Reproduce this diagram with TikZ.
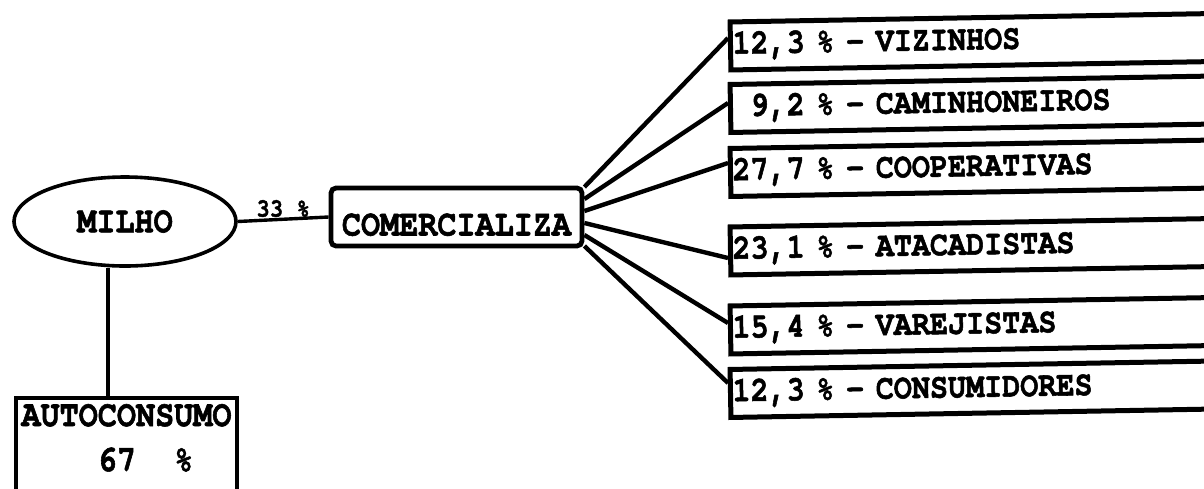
\documentclass[tikz,border=0pt]{standalone}
\usepackage{fontspec}
\newfontfamily\typer{texgyrecursor-bold.otf}[FakeStretch=0.86, FakeBold=1.5]
\usepackage{tikz}
\usetikzlibrary{shapes.geometric}
\tikzstyle{crop} = [ellipse, minimum width=111pt, minimum height=44.5pt, draw=black, line width=1.8pt, font=\typer\fontsize{18.5}{21}\selectfont]
\tikzstyle{sale} = [rectangle, rounded corners=2.5pt, minimum width=125.5pt, minimum height=29pt, text height=18.5pt, text depth=0pt, draw=black, line width=2.4pt, font=\typer\fontsize{18.5}{21}\selectfont]
\tikzstyle{own} = [rectangle, anchor=north, align=left, inner xsep=2.6pt, inner ysep=3pt, draw=black, line width=2pt, font=\typer\fontsize{18.5}{22.5}\selectfont]
\tikzstyle{buyer} = [rectangle, anchor=west, rotate=1, minimum height=24pt, text width=243pt, align=left, inner xsep=1pt, draw=black, line width=2.5pt, font=\typer\fontsize{17.5}{20}\selectfont]
\tikzstyle{share} = [above, inner sep=0.3pt, font=\typer\fontsize{13}{14}\selectfont]
\tikzstyle{link} = [line width=1.7pt]
\tikzstyle{fan} = [line width=2.2pt]

\begin{document}
\begin{tikzpicture}[x=0.5pt, y=-0.5pt]
	\useasboundingbox (0,0) rectangle (1204,488);
	\clip (0,0) rectangle (1204,488);

	\node[crop] (milho) at (125,221.5) {MILHO};
	\node[sale] (comercializa) at (456.5,217) {COMERCIALIZA};
	\node[own] (autoconsumo) at (126.5,396) {AUTOCONSUMO\\\phantom{0000}67\ \ \%\rule[-14pt]{0pt}{14pt}};

	\node[buyer] (vizinhos) at (728,46) {12,3 \% - VIZINHOS};
	\node[buyer] (caminhoneiros) at (728,108.5) {\phantom{1}9,2 \% - CAMINHONEIROS};
	\node[buyer] (cooperativas) at (728,172.5) {27,7 \% - COOPERATIVAS};
	\node[buyer] (atacadistas) at (728,251) {23,1 \% - ATACADISTAS};
	\node[buyer] (varejistas) at (728,330) {15,4 \% - VAREJISTAS};
	\node[buyer] (consumidores) at (728,393.5) {12,3 \% - CONSUMIDORES};

	\draw[link] (milho.east) -- node[share] (share_label) {33 \%} (comercializa.west);
	\draw[link] ([xshift=-8.5pt]milho.south) -- ([xshift=-8.5pt]milho.south |- autoconsumo.north);

	% fan out to the buyers
	\draw[fan] ([yshift=15pt]comercializa.east) -- ([yshift=4pt]vizinhos.west);
	\draw[fan] ([yshift=9pt]comercializa.east) -- ([yshift=2.75pt]caminhoneiros.west);
	\draw[fan] ([yshift=3pt]comercializa.east) -- ([yshift=4.75pt]cooperativas.west);
	\draw[fan] ([yshift=-3pt]comercializa.east) -- ([yshift=-3.5pt]atacadistas.west);
	\draw[fan] ([yshift=-9pt]comercializa.east) -- ([yshift=3.5pt]varejistas.west);
	\draw[fan] ([yshift=-14.5pt]comercializa.east) -- ([yshift=5.25pt]consumidores.west);
\end{tikzpicture}
\end{document}
